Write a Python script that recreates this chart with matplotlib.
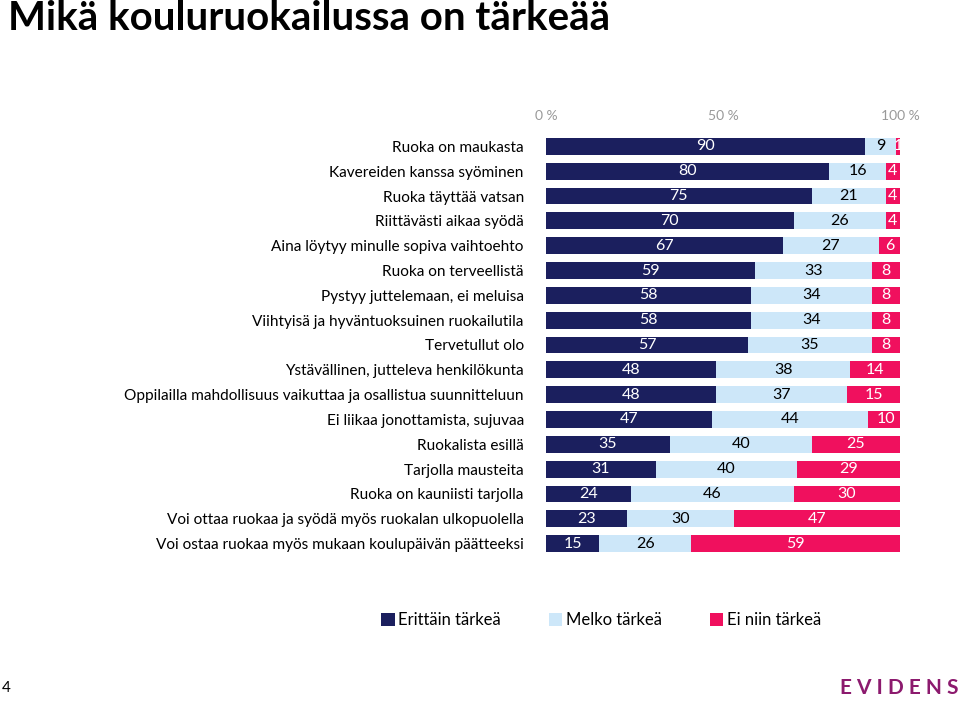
import matplotlib.pyplot as plt
from matplotlib.patches import Patch

# Kysymykset ja vastausten jakaumat (%)
kategoriat = [
    'Ruoka on maukasta',
    'Kavereiden kanssa syöminen',
    'Ruoka täyttää vatsan',
    'Riittävästi aikaa syödä',
    'Aina löytyy minulle sopiva vaihtoehto',
    'Ruoka on terveellistä',
    'Pystyy juttelemaan, ei meluisa',
    'Viihtyisä ja hyväntuoksuinen ruokailutila',
    'Tervetullut olo',
    'Ystävällinen, jutteleva henkilökunta',
    'Oppilailla mahdollisuus vaikuttaa ja osallistua suunnitteluun',
    'Ei liikaa jonottamista, sujuvaa',
    'Ruokalista esillä',
    'Tarjolla mausteita',
    'Ruoka on kauniisti tarjolla',
    'Voi ottaa ruokaa ja syödä myös ruokalan ulkopuolella',
    'Voi ostaa ruokaa myös mukaan koulupäivän päätteeksi',
]
erittain = [90, 80, 75, 70, 67, 59, 58, 58, 57, 48, 48, 47, 35, 31, 24, 23, 15]
melko = [9, 16, 21, 26, 27, 33, 34, 34, 35, 38, 37, 44, 40, 40, 46, 30, 26]
ei_niin = [1, 4, 4, 4, 6, 8, 8, 8, 8, 14, 15, 10, 25, 29, 30, 47, 59]
sarjat = ['Erittäin tärkeä', 'Melko tärkeä', 'Ei niin tärkeä']
x_tikit = [0, 50, 100]
x_tikkitekstit = ['0 %', '50 %', '100 %']

VARIT = ['#1b1f5e', '#cde7f9', '#f0105e']
TEKSTIVARIT = ['white', 'black', 'white']

plt.rcParams['font.family'] = ['Lato', 'DejaVu Sans']

fig = plt.figure(figsize=(9.6, 7.01), dpi=100)
ax = fig.add_axes([546 / 960, 1 - 556 / 701, 354 / 960, 422 / 701])

y = list(range(len(kategoriat)))
vasen = [0] * len(kategoriat)
for arvot, vari, tvari in zip([erittain, melko, ei_niin], VARIT, TEKSTIVARIT):
    ax.barh(y, arvot, left=vasen, height=0.68, color=vari, edgecolor='none')
    for i, (v, l) in enumerate(zip(arvot, vasen)):
        ax.text(l + v / 2, i, str(v), ha='center', va='center',
                color=tvari, fontsize=11.5)
    vasen = [a + b for a, b in zip(vasen, arvot)]

ax.set_xlim(0, 100)
ax.set_ylim(len(kategoriat) - 0.5, -0.5)
ax.set_yticks(y)
ax.set_yticklabels(kategoriat, fontsize=11.05)
ax.xaxis.tick_top()
ax.set_xticks(x_tikit)
ax.set_xticklabels(x_tikkitekstit, fontsize=10, color='#999999')
ax.tick_params(axis='x', length=0, pad=9)
ax.tick_params(axis='y', length=0, pad=16)
for s in ax.spines.values():
    s.set_visible(False)

kahvat = [Patch(facecolor=c, edgecolor='none') for c in VARIT]
fig.legend(kahvat, sarjat, loc='center', bbox_to_anchor=(601 / 960, 1 - 620 / 701),
           ncol=3, frameon=False, fontsize=12, handlelength=0.8, handleheight=0.8,
           handletextpad=0.2, columnspacing=2.9)

fig.text(8 / 960, 1 - 30 / 701, 'Mikä kouluruokailussa on tärkeää', fontsize=29,
         fontweight='bold', ha='left', va='baseline')
fig.text(2 / 960, 1 - 688 / 701, '4', fontsize=11, ha='left', va='center')
fig.text(958 / 960, 1 - 688 / 701, 'E V I D E N S', fontsize=15, fontweight='bold',
         color='#8c1a6e', ha='right', va='center')

fig.savefig('out.png', dpi=100)
